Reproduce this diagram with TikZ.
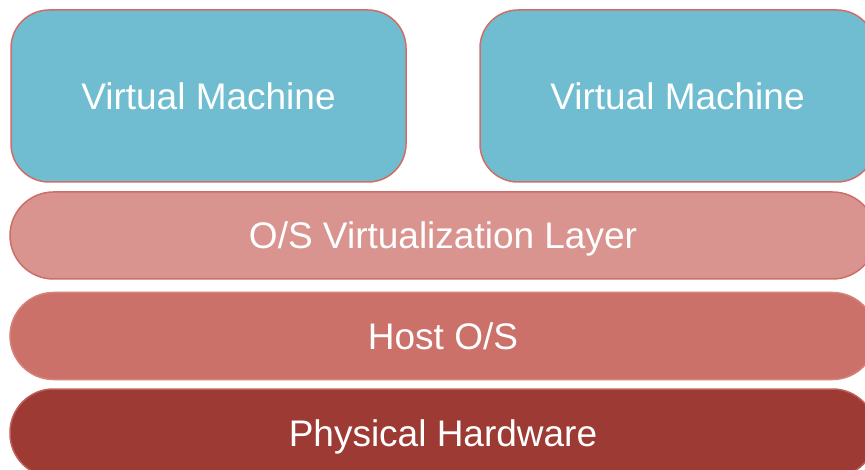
\documentclass[tikz,border=0pt]{standalone}
\usepackage{fontspec}
\setmainfont{Liberation Sans}
\definecolor{vmfill}{HTML}{70BDD1}
\definecolor{vmborder}{HTML}{CD6F67}
\definecolor{virtfill}{HTML}{D9948F}
\definecolor{virtborder}{HTML}{CB6F68}
\definecolor{hostfill}{HTML}{CB7169}
\definecolor{hostborder}{HTML}{D4827B}
\definecolor{hwfill}{HTML}{9D3A34}
\definecolor{hwborder}{HTML}{C0605A}
\tikzset{
  box/.style={text=white, font=\fontsize{37}{44}\selectfont, line width=1.5pt, inner sep=0pt, anchor=center, text height=26.5pt, text depth=0pt},
  vmbox/.style={box, fill=vmfill, draw=vmborder, rounded corners=38pt, minimum width=395pt, minimum height=172pt},
  layerbox/.style={box, rounded corners=43.5pt, minimum width=866pt, minimum height=87pt},
}
\begin{document}
\begin{tikzpicture}[x=1pt,y=-1pt]
\useasboundingbox (0,0) rectangle (865,470);
\clip (0,0) rectangle (865,470);
\node[vmbox] (vm1) at (208.5,96) {Virtual Machine};
\node[vmbox] (vm2) at (677.5,96) {Virtual Machine};
\node[layerbox, fill=virtfill, draw=virtborder] (virt) at (443,235.5) {O/S Virtualization Layer};
\node[layerbox, fill=hostfill, draw=hostborder] (host) at (443,336) {Host O/S};
\node[layerbox, fill=hwfill, draw=hwborder, minimum height=88pt] (hw) at (443,433) {Physical Hardware};
\end{tikzpicture}
\end{document}
